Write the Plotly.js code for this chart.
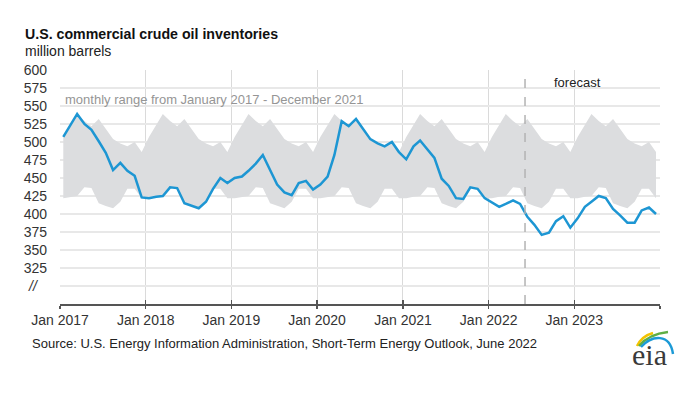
<!DOCTYPE html>
<html>
<head>
<meta charset="utf-8">
<script src="https://cdn.plot.ly/plotly-3.0.1.min.js"></script>
<style>html,body{margin:0;padding:0;background:#fff;}</style>
</head>
<body>
<div id="chart" style="width:697px;height:395px;"></div>
<script>
// ---- data ----
const years = [2017, 2018, 2019, 2020, 2021, 2022, 2023];
const inventories = [
  507, 523, 539, 525, 517, 501, 485, 461, 471, 460, 453, 423,
  422, 424, 425, 437, 436, 415, 411, 408, 417, 435, 450, 443,
  450, 452, 460, 470, 482, 462, 441, 430, 426, 443, 446, 434,
  441, 452, 482, 529, 522, 532, 519, 504, 498, 494, 500, 486,
  476, 494, 502, 490, 478, 449, 439, 422, 421, 437, 435, 422,
  416, 410, 414, 419, 414, 396, 385, 371, 374, 390, 397, 381,
  394, 410, 417, 425, 422, 407, 398, 388, 388, 405, 409, 400
];
// monthly range Jan 2017 - Dec 2021 (Jan..Dec)
const rangeMax = [507, 523, 539, 529, 522, 532, 519, 504, 498, 494, 500, 486];
const rangeMin = [422, 424, 425, 437, 436, 415, 411, 408, 417, 435, 435, 422];
const xTickVals = ['2017-01-01','2018-01-01','2019-01-01','2020-01-01','2021-01-01','2022-01-01','2023-01-01','2024-01-01'];
const xTickText = ['Jan 2017','Jan 2018','Jan 2019','Jan 2020','Jan 2021','Jan 2022','Jan 2023',''];
const yTickVals = [300, 325, 350, 375, 400, 425, 450, 475, 500, 525, 550, 575, 600];
const yTickText = ['', '325', '350', '375', '400', '425', '450', '475', '500', '525', '550', '575', '600'];
const forecastStart = '2022-06-05';

// ---- build ----
const monthDates = [];
const bandHi = [], bandLo = [];
years.forEach(y => {
  for (let m = 0; m < 12; m++) {
    monthDates.push(y + '-' + String(m + 1).padStart(2, '0') + '-15');
    bandHi.push(rangeMax[m]);
    bandLo.push(rangeMin[m]);
  }
});

const W = 697, H = 395;
const M = {l: 60, r: 37, t: 70, b: 91};
const PW = W - M.l - M.r, PH = H - M.t - M.b;
const px = x => (x - M.l) / PW;
const py = y => (H - M.b - y) / PH;
const FONT = 'Arial, "Liberation Sans", sans-serif';

const traces = [
  {x: monthDates, y: bandLo, type: 'scatter', mode: 'lines', line: {width: 0, color: 'rgba(0,0,0,0)'}, hoverinfo: 'skip', showlegend: false},
  {x: monthDates, y: bandHi, type: 'scatter', mode: 'lines', fill: 'tonexty', fillcolor: '#dcdddf', line: {width: 0, color: 'rgba(0,0,0,0)'}, hoverinfo: 'skip', showlegend: false},
  {x: monthDates, y: inventories, type: 'scatter', mode: 'lines', line: {color: '#1d96d3', width: 2.5}, showlegend: false},
  {x: [], y: [], xaxis: 'x2', type: 'scatter', showlegend: false}
];

const layout = {
  width: W, height: H,
  margin: M,
  paper_bgcolor: '#ffffff', plot_bgcolor: '#ffffff',
  font: {family: FONT, color: '#333', size: 14},
  showlegend: false,
  xaxis: {
    type: 'date', range: ['2017-01-01', '2024-01-01'],
    tickmode: 'array', tickvals: xTickVals, ticktext: xTickText,
    showgrid: true, gridcolor: '#dadada', gridwidth: 1,
    showline: true, linecolor: '#555', linewidth: 1.5,
    ticks: 'outside', ticklen: 3, tickwidth: 1.5, tickcolor: '#555',
    tickfont: {size: 14, color: '#333'}, zeroline: false, fixedrange: true
  },
  xaxis2: {
    type: 'date', range: ['2017-01-01', '2024-01-01'], overlaying: 'x', anchor: 'y',
    tickmode: 'array', tickvals: xTickVals, ticks: 'inside', ticklen: 4, tickwidth: 1.5, tickcolor: '#555',
    showticklabels: false, showgrid: false, showline: false, zeroline: false
  },
  yaxis: {
    range: [275, 600], tickmode: 'array', tickvals: yTickVals, ticktext: yTickText,
    showgrid: true, gridcolor: '#e8e8e8', gridwidth: 1.5,
    showline: false, zeroline: false, ticks: '', ticklabelstandoff: 12,
    tickfont: {size: 14, color: '#333'}, fixedrange: true
  },
  shapes: [
    {type: 'line', xref: 'x', yref: 'paper', x0: forecastStart, x1: forecastStart, y0: 0, y1: 1,
     line: {color: '#b3b3b3', width: 1.5, dash: 'dash'}, layer: 'above'},
    // eia logo swooshes
    {type: 'path', xref: 'paper', yref: 'paper',
     path: `M ${px(637)},${py(346)} Q ${px(642)},${py(336)} ${px(653)},${py(333)}`,
     line: {color: '#f2c300', width: 2.5}},
    {type: 'path', xref: 'paper', yref: 'paper',
     path: `M ${px(639)},${py(346)} Q ${px(649)},${py(334)} ${px(668)},${py(332)}`,
     line: {color: '#5fae45', width: 2.5}},
    {type: 'path', xref: 'paper', yref: 'paper',
     path: `M ${px(641)},${py(347)} C ${px(652)},${py(335)} ${px(670)},${py(333)} ${px(673)},${py(354)}`,
     line: {color: '#1c9ad6', width: 2.5}}
  ],
  annotations: [
    {text: '<b>U.S. commercial crude oil inventories</b>', xref: 'paper', yref: 'paper', x: px(23), y: py(34),
     xanchor: 'left', yanchor: 'middle', showarrow: false, font: {size: 14.2, color: '#111'}},
    {text: 'million barrels', xref: 'paper', yref: 'paper', x: px(23), y: py(51),
     xanchor: 'left', yanchor: 'middle', showarrow: false, font: {size: 14, color: '#222'}},
    {text: 'monthly range from January 2017 - December 2021', xref: 'paper', yref: 'paper', x: px(63), y: py(99),
     xanchor: 'left', yanchor: 'middle', showarrow: false, font: {size: 13, color: '#959595'}},
    {text: 'forecast', xref: 'paper', yref: 'paper', x: px(577), y: py(82),
     xanchor: 'center', yanchor: 'middle', showarrow: false, font: {size: 13, color: '#222'}},
    {text: '<i>//</i>', xref: 'paper', yref: 'y', x: px(33), y: 300,
     xanchor: 'center', yanchor: 'middle', showarrow: false, font: {size: 14, color: '#333'}},
    {text: 'Source: U.S. Energy Information Administration, Short-Term Energy Outlook, June 2022', xref: 'paper', yref: 'paper',
     x: px(30), y: py(343), xanchor: 'left', yanchor: 'middle', showarrow: false, font: {size: 13, color: '#222'}},
    {text: 'eia', xref: 'paper', yref: 'paper', x: px(649), y: py(354),
     xanchor: 'center', yanchor: 'middle', showarrow: false,
     font: {family: '"Liberation Serif", "DejaVu Serif", serif', size: 30, color: '#3a3a3a'}}
  ]
};

Plotly.newPlot('chart', traces, layout, {displayModeBar: false, staticPlot: true});
</script>
</body>
</html>
